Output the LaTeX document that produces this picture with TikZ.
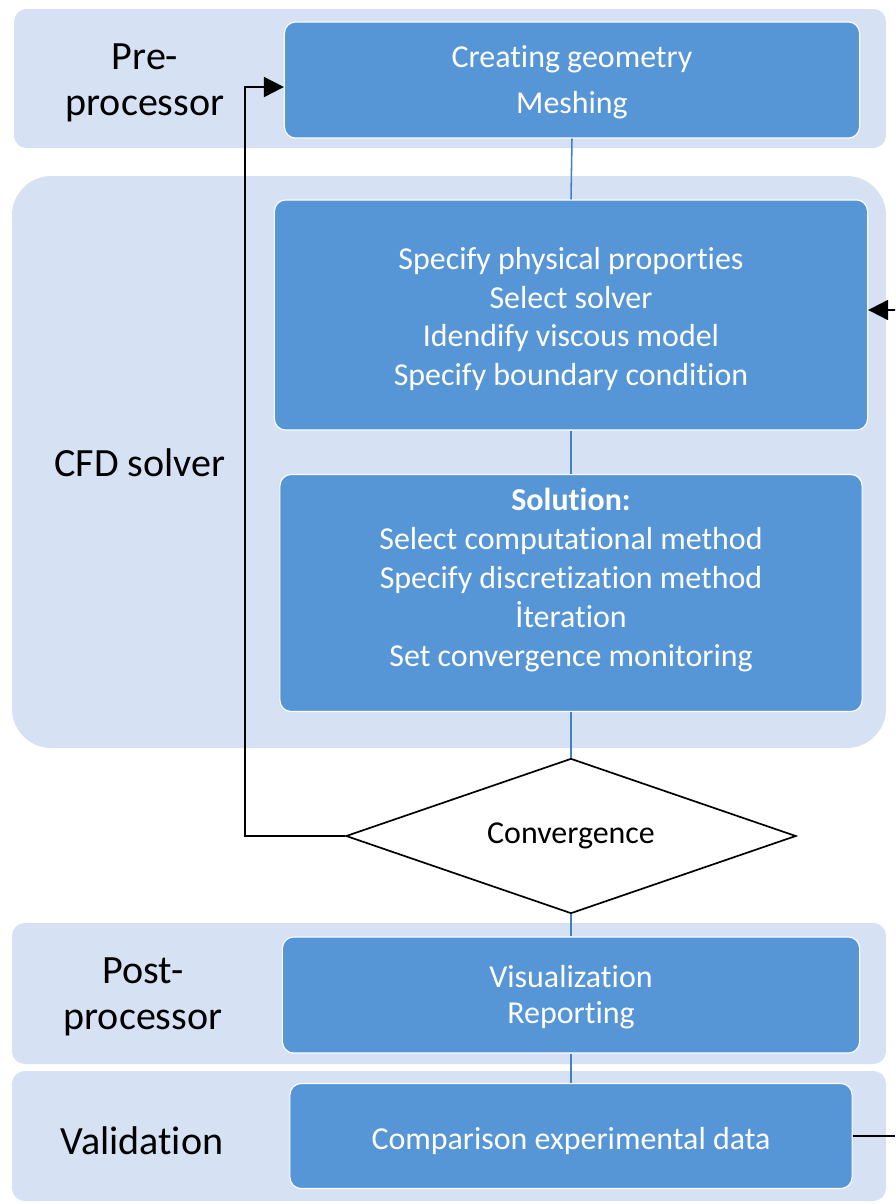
\documentclass[tikz,border=0pt]{standalone}
\usepackage{fontspec}
\setmainfont{Carlito}[RawFeature={-liga;-clig;-calt}]
\usetikzlibrary{shapes.geometric,arrows.meta}
\definecolor{bandblue}{RGB}{214,225,244}
\definecolor{boxblue}{RGB}{86,150,214}
\definecolor{linkblue}{RGB}{68,128,196}

\begin{document}
\begin{tikzpicture}[x=0.025cm,y=-0.025cm,
    band/.style={fill=bandblue,rounded corners=9pt},
    stagebox/.style={draw=white,line width=0.8pt,fill=boxblue,rounded corners=8pt,inner sep=0pt},
    boxtext/.style={text=white,align=center,inner sep=0pt,font=\fontsize{22.7}{27.7}\selectfont},
    stagelabel/.style={align=center,font=\fontsize{28.5}{33}\selectfont},
    link/.style={draw=linkblue,line width=1.1pt},
    feedback/.style={draw=black,line width=1.4pt},
    tip/.style={-{Triangle[length=0.5cm,width=0.5cm]}}]
    \useasboundingbox (0,0) rectangle (895,1204);

    % Draw the background bands
    \fill[band] (14,9) rectangle (886,148);
    \fill[band,rounded corners=28pt] (12,176) rectangle (886,748);
    \fill[band] (12,923) rectangle (886,1064);
    \fill[band] (12,1071) rectangle (886,1201);

    % Draw the stage labels
    \node[stagelabel] (prelabel) at (145,83) {Pre-\\processor};
    \node[stagelabel] (cfdlabel) at (140,463) {CFD solver};
    \node[stagelabel] (postlabel) at (143,997) {Post-\\processor};
    \node[stagelabel] (validlabel) at (142,1141) {Validation};

    % Draw the process boxes
    \node[stagebox,minimum width=14.375cm,minimum height=2.9cm] (pre) at (572,80) {};
    \node[stagebox,minimum width=14.825cm,minimum height=5.75cm] (setup) at (571,315) {};
    \node[stagebox,minimum width=14.55cm,minimum height=5.925cm] (solution) at (571,593) {};
    \node[shape=diamond,draw,fill=white,line width=1.2pt,inner sep=0pt,shape aspect=2.9,
      minimum width=11.25cm,minimum height=3.875cm,font=\fontsize{22.7}{27.7}\selectfont]
      (conv) at (571,836) {\raisebox{-2pt}{Convergence}};
    \node[stagebox,minimum width=14.425cm,minimum height=2.9cm] (post) at (571,995) {};
    \node[stagebox,minimum width=14.05cm,minimum height=2.625cm] (valid) at (571,1136) {};

    % Write the box texts
    \node[boxtext,font=\fontsize{22.7}{32.7}\selectfont] (pretext) at (572,82) {Creating geometry\\Meshing};
    \node[boxtext] (setuptext) at (571,319)
      {Specify physical proporties\\Select solver\\Idendify viscous model\\Specify boundary condition};
    \node[boxtext] (solutiontext) at (571,580)
      {\textbf{Solution:}\\Select computational method\\Specify discretization method\\İteration\\Set convergence monitoring};
    \node[boxtext,font=\fontsize{22.7}{25.6}\selectfont] (posttext) at (571,997) {Visualization\\Reporting};
    \node[boxtext] (validtext) at (571,1141) {Comparison experimental data};

    % Draw the vertical links
    \draw[link] (pre.south) -- (setup.north);
    \draw[link] (setup.south) -- (solution.north);
    \draw[link] (solution.south) -- (conv.north);
    \draw[link] (conv.south) -- (post.north);
    \draw[link] (post.south) -- (valid.north);

    % Draw the feedback lines
    \draw[feedback,tip] (conv.west) -- (245,836) |- ([yshift=-0.175cm]pre.west);
    \coordinate (revin) at (895,310);
    \coordinate (revout) at (895,1136);
    \draw[feedback,tip] (revin) -- ([yshift=0.125cm]setup.east);
    \draw[feedback] (valid.east) -- (revout);
\end{tikzpicture}
\end{document}
